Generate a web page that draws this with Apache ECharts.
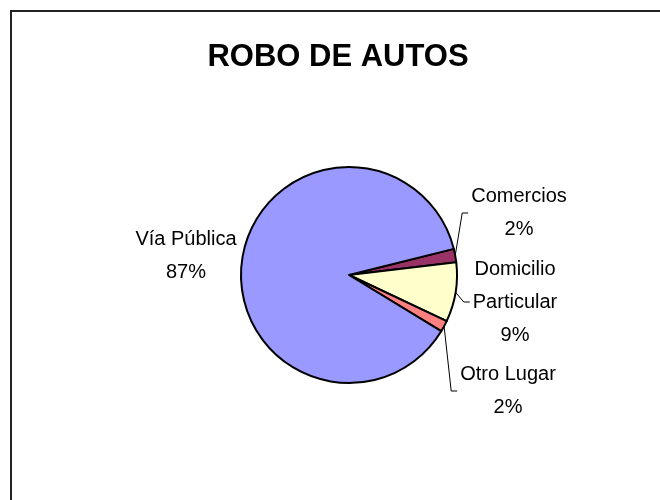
<!DOCTYPE html>
<html>
<head>
<meta charset="utf-8">
<script src="https://cdn.jsdelivr.net/npm/echarts@6/dist/echarts.min.js"></script>
<style>
  html, body { margin: 0; padding: 0; background: #fff; }
  #chart { width: 660px; height: 500px; }
</style>
</head>
<body>
<div id="chart"></div>
<script>
const titleText = 'ROBO DE AUTOS';
const categories = ['Comercios', 'Domicilio\nParticular', 'Otro Lugar', 'Vía Pública'];
const values = [2.0, 8.9, 1.7, 87.4];
const colors = ['#993366', '#FFFFCC', '#FF8080', '#9999FF'];

// label anchor positions (centre of each label block), style only
const labelPos = [[519, 213], [515, 302], [508, 391], [186, 256]];
const LABEL_FONT = '"Liberation Sans", Arial, sans-serif';

const chart = echarts.init(document.getElementById('chart'), null, { renderer: 'canvas' });

const data = categories.map((c, i) => ({
  name: c,
  value: values[i],
  itemStyle: { color: colors[i] },
  labelLine: { show: i !== 3 }
}));

chart.setOption({
  animation: false,
  backgroundColor: '#ffffff',
  graphic: [
    {
      type: 'rect',
      shape: { x: 11, y: 11, width: 700, height: 600 },
      style: { fill: 'none', stroke: '#222', lineWidth: 2 },
      silent: true
    },
    {
      type: 'text',
      x: 338,
      y: 57,
      style: {
        text: titleText,
        font: 'bold 31px "Liberation Sans", Arial, sans-serif',
        fill: '#000',
        align: 'center',
        verticalAlign: 'middle'
      }
    }
  ],
  series: [{
    type: 'pie',
    center: [349, 275],
    radius: 108,
    startAngle: 14,
    clockwise: true,
    avoidLabelOverlap: false,
    data: data,
    itemStyle: { borderColor: '#000', borderWidth: 2 },
    label: {
      show: true,
      position: 'outside',
      formatter: p => p.name + '\n' + Math.round(p.percent) + '%',
      fontFamily: LABEL_FONT,
      fontSize: 20,
      lineHeight: 33,
      color: '#000',
      align: 'center'
    },
    labelLine: {
      show: true,
      length: 10,
      length2: 10,
      lineStyle: { color: '#000', width: 1 }
    },
    labelLayout: function (params) {
      const i = params.dataIndex;
      const pos = labelPos[i];
      const w = params.labelRect.width;
      const res = { x: pos[0], y: pos[1], align: 'center', verticalAlign: 'middle' };
      if (i !== 3 && params.labelLinePoints) {
        const start = params.labelLinePoints[0];
        const left = pos[0] - w / 2;
        res.labelLinePoints = [start, [left - 9, pos[1]], [left - 3, pos[1]]];
      }
      return res;
    }
  }]
});
</script>
</body>
</html>
